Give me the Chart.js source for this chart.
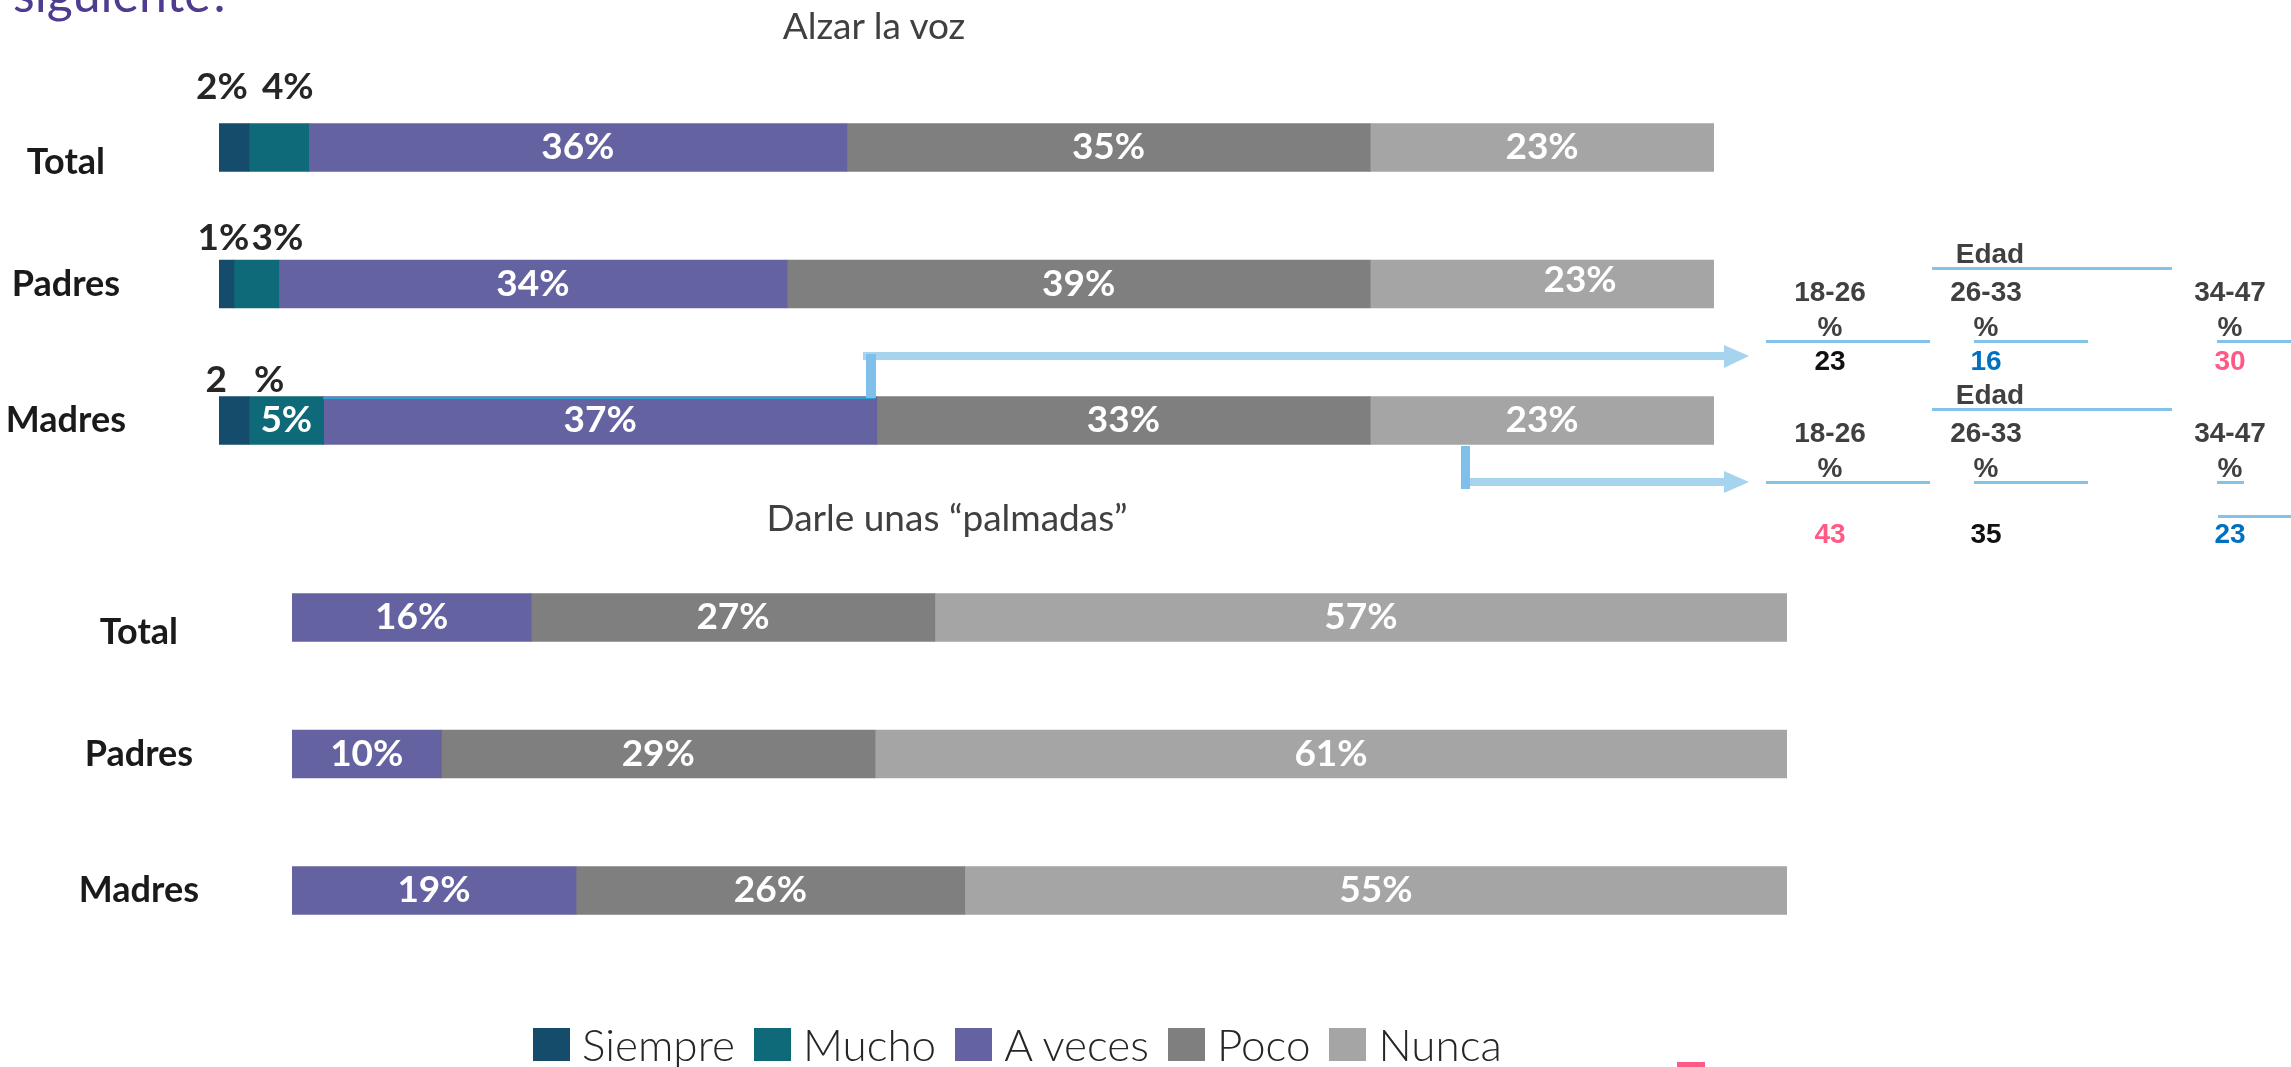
<!DOCTYPE html>
<html>
<head>
<meta charset="utf-8">
<script src="https://cdn.jsdelivr.net/npm/chart.js@4.4.1/dist/chart.umd.min.js"></script>
<style>
  body { margin: 0; background: #fff; width: 2291px; height: 1067px; overflow: hidden; position: relative; font-family: Lato, sans-serif; }
  .box { position: absolute; }
  #topBox { left: 0; top: 0; width: 1748px; height: 500px; }
  #bottomBox { left: 0; top: 470px; width: 1894px; height: 500px; }
  #overlay { position: absolute; left: 0; top: 0; }
  #legend { position: absolute; left: 533px; top: 1022px; display: flex; align-items: center; gap: 19px; }
  #legend .item { display: flex; align-items: center; }
  #legend .sw { width: 37px; height: 33px; margin-right: 12px; }
  #legend span { font: 300 44px Lato, sans-serif; color: #262626; line-height: 44px; }
</style>
</head>
<body>
<div id="topBox" class="box"><canvas id="alzar"></canvas></div>
<div id="bottomBox" class="box"><canvas id="palmadas"></canvas></div>
<svg id="overlay" width="2291" height="1067"></svg>
<div id="legend"></div>

<script>
// categories and series
const groups = ['Total', 'Padres', 'Madres'];
const seriesNames = ['Siempre', 'Mucho', 'A veces', 'Poco', 'Nunca'];
const colours = ['#154c6b', '#0e6a79', '#6462a1', '#7f7f7f', '#a5a5a5'];

// "Alzar la voz"
const alzarSiempre = [2, 1, 2];
const alzarMucho = [4, 3, 5];
const alzarAveces = [36, 34, 37];
const alzarPoco = [35, 39, 33];
const alzarNunca = [23, 23, 23];

// "Darle unas palmadas"
const palmadasAveces = [16, 10, 19];
const palmadasPoco = [27, 29, 26];
const palmadasNunca = [57, 61, 55];

// age breakdown (Madres)
const edadRanges = ['18-26', '26-33', '34-47'];
const alzarEdad = [23, 16, 30];
const palmadasEdad = [43, 35, 23];

// label tweaks: [dx, dy] from default spot
const alzarShift = {
    'Total|Siempre': [-12, -12], 'Total|Mucho': [9, -12],
    'Padres|Siempre': [-3, 2], 'Padres|Mucho': [21, 2],
    'Madres|Siempre': [11, 8], 'Padres|Nunca': [38, -4]
};
const alzarText = { 'Madres|Siempre': '2   %' };

const segmentLabels = {
    id: 'segmentLabels',
    afterDatasetsDraw(chart, args, opts) {
        const ctx = chart.ctx;
        ctx.save();
        ctx.font = 'bold 37px Lato';
        ctx.textAlign = 'center';
        ctx.textBaseline = 'middle';
        chart.data.datasets.forEach((ds, di) => {
            chart.getDatasetMeta(di).data.forEach((bar, i) => {
                const v = ds.data[i];
                const p = bar.getProps(['x', 'base', 'y', 'height'], true);
                const key = chart.data.labels[i] + '|' + ds.label;
                let cx = (p.x + p.base) / 2;
                let cy = p.y;
                if (v < 5) {
                    ctx.fillStyle = '#262626';
                    cy = p.y - p.height / 2 - 24;
                } else {
                    ctx.fillStyle = '#ffffff';
                }
                const s = (opts.shift || {})[key];
                if (s) { cx += s[0]; cy += s[1]; }
                const text = (opts.text || {})[key] || v + '%';
                ctx.fillText(text, cx, cy);
            });
        });
        ctx.restore();
    }
};

function barOptions(axisWidth, pad, shift, text) {
    return {
        indexAxis: 'y',
        responsive: true,
        maintainAspectRatio: false,
        animation: false,
        layout: { padding: pad },
        datasets: { bar: { barThickness: 48, borderWidth: 0 } },
        scales: {
            x: { stacked: true, min: 0, max: 100, display: false },
            y: {
                stacked: true,
                grid: { display: false, drawTicks: false },
                border: { display: false },
                ticks: {
                    crossAlign: 'center',
                    padding: 93,
                    color: '#1a1a1a',
                    font: { family: 'Lato', weight: 'bold', size: 36, lineHeight: 0.8 },
                    // "Total" sits a little lower than its bar in the original
                    callback: (v, i) => i === 0 ? ['', groups[i]] : groups[i]
                },
                afterFit: (axis) => {
                    axis.width = axisWidth;
                    axis.paddingTop = 0;
                    axis.paddingBottom = 0;
                }
            }
        },
        plugins: {
            legend: { display: false },
            tooltip: { enabled: false },
            segmentLabels: { shift: shift, text: text }
        }
    };
}

const alzarSeries = [alzarSiempre, alzarMucho, alzarAveces, alzarPoco, alzarNunca];
new Chart(document.getElementById('alzar'), {
    type: 'bar',
    data: {
        labels: groups,
        datasets: alzarSeries.map((d, i) => ({ label: seriesNames[i], data: d, backgroundColor: colours[i] }))
    },
    options: barOptions(219, { left: 0, right: 34, top: 79.25, bottom: 11.25 }, alzarShift, alzarText),
    plugins: [segmentLabels]
});

const palmadasSeries = [palmadasAveces, palmadasPoco, palmadasNunca];
new Chart(document.getElementById('palmadas'), {
    type: 'bar',
    data: {
        labels: groups,
        datasets: palmadasSeries.map((d, i) => ({ label: seriesNames[i + 2], data: d, backgroundColor: colours[i + 2] }))
    },
    options: barOptions(292, { left: 0, right: 107, top: 79.25, bottom: 11.25 }, {}, {}),
    plugins: [segmentLabels]
});

// legend
const legend = document.getElementById('legend');
seriesNames.forEach((n, i) => {
    const item = document.createElement('div');
    item.className = 'item';
    item.innerHTML = '<div class="sw" style="background:' + colours[i] + '"></div><span>' + n + '</span>';
    legend.appendChild(item);
});

// overlay: titles, arrows, age tables, clipped heading
const svg = document.getElementById('overlay');
const NS = 'http://www.w3.org/2000/svg';
function add(tag, attrs, txt) {
    const el = document.createElementNS(NS, tag);
    for (const k in attrs) el.setAttribute(k, attrs[k]);
    if (txt !== undefined) el.textContent = txt;
    svg.appendChild(el);
    return el;
}

add('text', { x: 13, y: 12, fill: '#4f3b8f', 'font-family': 'Lato', 'font-size': 50 }, 'siguiente?');

const titleFont = { 'font-family': 'Lato', 'font-size': 37, fill: '#404040', 'text-anchor': 'middle', 'dominant-baseline': 'central' };
add('text', Object.assign({ x: 874, y: 24 }, titleFont), 'Alzar la voz');
add('text', Object.assign({ x: 947, y: 516 }, titleFont), 'Darle unas \u201cpalmadas\u201d');

// arrow 1 (from Madres A veces)
add('rect', { x: 323, y: 397, width: 552, height: 2, fill: '#27a3cf' });
add('rect', { x: 863, y: 352, width: 861, height: 8, fill: '#a6d4ef' });
add('polygon', { points: '1724,345 1749,356 1724,368', fill: '#a6d4ef' });
add('rect', { x: 866, y: 354, width: 10, height: 44, fill: '#7ec0e9' });
// arrow 2 (from Madres Nunca)
add('rect', { x: 1470, y: 478, width: 254, height: 8, fill: '#a6d4ef' });
add('polygon', { points: '1724,471 1749,482 1724,493', fill: '#a6d4ef' });
add('rect', { x: 1461, y: 446, width: 9, height: 43, fill: '#7ec0e9' });

const colX = [1830, 1986, 2230];
function edadTable(top, values, lastLine) {
    const f = { 'font-family': 'Liberation Sans, Arial', 'font-weight': 'bold', 'font-size': 28, 'text-anchor': 'middle', 'dominant-baseline': 'central' };
    add('text', Object.assign({ x: 1990, y: top, fill: '#404040' }, f), 'Edad');
    add('rect', { x: 1932, y: top + 14, width: 240, height: 3, fill: '#83c3e9' });
    const hi = Math.max(...values), lo = Math.min(...values);
    edadRanges.forEach((r, i) => {
        add('text', Object.assign({ x: colX[i], y: top + 38, fill: '#404040' }, f), r);
        add('text', Object.assign({ x: colX[i], y: top + 73, fill: '#404040' }, f), '%');
    });
    add('rect', { x: 1766, y: top + 87, width: 164, height: 3, fill: '#83c3e9' });
    add('rect', { x: 1974, y: top + 87, width: 114, height: 3, fill: '#83c3e9' });
    add('rect', { x: 2217, y: top + 87, width: lastLine, height: 3, fill: '#83c3e9' });
    return (rowY) => values.forEach((v, i) => {
        const c = v === hi ? '#ff5a85' : (v === lo ? '#0070c0' : '#111111');
        add('text', Object.assign({ x: colX[i], y: rowY, fill: c }, f), v);
    });
}
edadTable(253, alzarEdad, 74)(360);
edadTable(394, palmadasEdad, 27)(533);
add('rect', { x: 2218, y: 515, width: 73, height: 3, fill: '#83c3e9' });

add('rect', { x: 1677, y: 1062, width: 28, height: 5, fill: '#ff5a85' });
</script>
</body>
</html>
